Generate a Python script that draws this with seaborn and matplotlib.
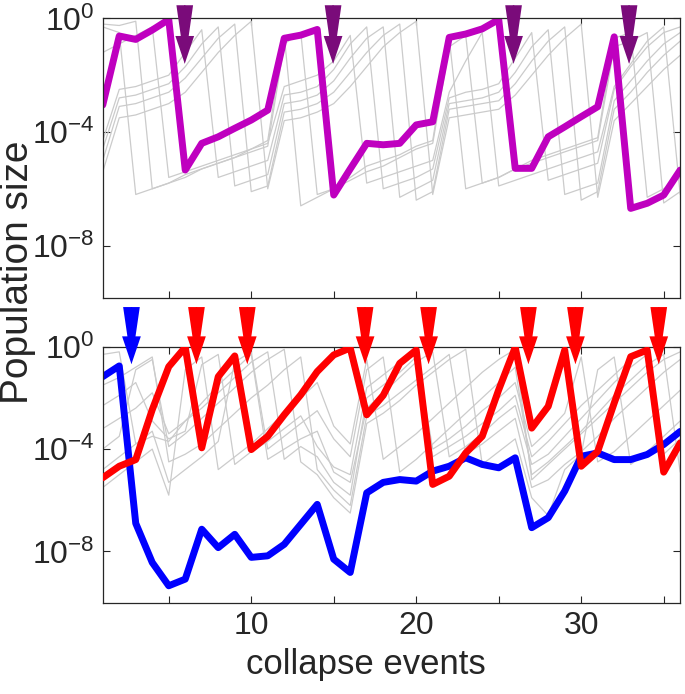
import numpy as np
import pandas as pd
import matplotlib
matplotlib.use("Agg")
import matplotlib.pyplot as plt
import seaborn as sns

# collapse event index
events = np.arange(1, 37)

# ---- top panel (log10 of population size) ----
top_focus = [-3.05, -0.62, -0.74, -0.41, -0.04, -5.34, -4.40, -4.17, -3.87, -3.58, -3.23, -0.70,
             -0.59, -0.39, -6.22, -5.30, -4.40, -4.45, -4.40, -3.75, -3.64, -0.67, -0.55, -0.37,
             -0.04, -5.28, -5.28, -4.17, -3.82, -3.46, -3.11, -0.65, -6.69, -6.51, -6.22, -5.34]
top_g1 = [-0.3, -0.5, -6.2, -6.0, -5.8, -5.5, -5.3, -5.1, -4.9, -4.6, -4.3, -0.6,
          -6.6, -6.3, -6.0, -5.6, -5.2, -5.0, -4.8, -4.5, -4.3, -0.7, -6.0, -5.8,
          -5.6, -5.3, -5.0, -4.8, -4.6, -4.4, -4.2, -0.7, -0.5, -6.3, -6.0, -5.6]
top_g2 = [-0.2, -0.25, -0.1, -6.0, -5.8, -5.6, -5.3, -5.1, -4.9, -4.7, -4.5, -0.9,
          -0.5, -6.2, -6.0, -5.7, -5.4, -5.2, -4.9, -4.6, -4.4, -1.0, -0.6, -5.8,
          -5.6, -5.3, -5.1, -4.9, -4.7, -4.5, -4.3, -1.0, -0.8, -0.5, -6.5, -6.1]
top_g3 = [-1.2, -0.9, -0.6, -0.3, -5.6, -5.4, -5.2, -5.0, -4.8, -4.6, -4.4, -2.4,
          -2.2, -2.0, -1.5, -0.6, -5.8, -5.6, -5.4, -5.2, -5.0, -2.6, -1.5, -0.5,
          -5.9, -5.7, -5.5, -5.3, -5.1, -4.9, -4.7, -2.4, -1.6, -0.8, -0.3, -6.2]
top_g4 = [-4.3, -2.5, -2.4, -2.2, -2.0, -1.2, -0.4, -5.6, -5.4, -5.2, -5.0, -2.7,
          -2.6, -2.4, -1.8, -0.9, -0.3, -6.0, -5.8, -5.6, -5.3, -2.8, -2.6, -2.5,
          -2.3, -1.4, -0.5, -5.7, -5.5, -5.3, -5.1, -2.5, -1.7, -1.0, -0.5, -0.3]
top_g5 = [-4.6, -2.8, -2.7, -2.5, -2.3, -1.7, -0.9, -0.3, -5.9, -5.7, -5.5, -3.0,
          -2.9, -2.7, -2.2, -1.4, -0.7, -0.3, -6.3, -6.0, -5.7, -3.0, -2.9, -2.8,
          -2.6, -1.9, -1.0, -0.4, -6.2, -6.0, -5.8, -2.9, -2.2, -1.5, -0.9, -0.5]
top_g6 = [-5.0, -3.1, -3.0, -2.8, -2.6, -2.1, -1.4, -0.7, -0.2, -6.1, -5.9, -3.3,
          -3.2, -3.0, -2.6, -1.9, -1.2, -0.6, -0.2, -6.4, -6.1, -3.2, -3.1, -3.0,
          -2.9, -2.3, -1.5, -0.8, -0.3, -6.4, -6.1, -3.2, -2.6, -1.9, -1.3, -0.8]
top_g7 = [-5.4, -3.5, -3.4, -3.2, -3.0, -2.6, -1.9, -1.2, -0.6, -0.1, -6.0, -3.6,
          -3.5, -3.3, -3.0, -2.4, -1.7, -1.0, -0.5, -0.1, -6.2, -3.5, -3.4, -3.3,
          -3.2, -2.7, -2.0, -1.3, -0.7, -0.2, -6.3, -3.6, -3.0, -2.4, -1.8, -1.3]

# ---- bottom panel ----
bot_red = [-5.12, -4.67, -4.41, -2.46, -0.78, -0.02, -3.95, -1.17, -0.36, -4.02, -3.50, -2.66,
           -1.88, -0.97, -0.32, -0.05, -2.66, -1.90, -0.65, -0.13, -5.38, -5.06, -4.15, -3.50,
           -1.68, -0.02, -3.18, -2.33, -0.13, -4.67, -4.09, -2.20, -0.39, -0.13, -4.90, -3.76]
bot_blue = [-1.17, -0.75, -6.90, -8.43, -9.34, -9.08, -7.13, -7.85, -7.33, -8.23, -8.17, -7.72,
            -6.94, -6.16, -8.30, -8.82, -5.71, -5.30, -5.19, -5.25, -4.86, -4.67, -4.34, -4.60,
            -4.73, -4.34, -7.07, -6.68, -5.64, -4.28, -4.15, -4.41, -4.41, -4.21, -3.82, -3.31]
bot_g1 = [-0.3, -0.2, -3.8, -3.5, -3.7, -2.9, -2.2, -1.5, -0.9, -0.3, -4.4, -4.0,
          -3.6, -3.3, -4.9, -5.3, -2.4, -1.8, -1.2, -0.6, -0.2, -4.3, -3.9, -3.4,
          -2.8, -2.3, -4.6, -4.2, -3.5, -2.8, -2.1, -1.4, -0.8, -0.3, -4.6, -4.0]
bot_g2 = [-1.5, -1.2, -0.8, -0.4, -4.5, -4.2, -3.8, -3.2, -2.6, -2.0, -1.5, -0.9,
          -0.4, -4.8, -5.6, -6.2, -2.7, -2.3, -1.8, -1.3, -0.8, -0.3, -4.2, -3.8,
          -3.3, -2.8, -5.5, -5.2, -4.6, -4.1, -3.5, -2.8, -2.2, -1.6, -1.0, -0.5]
bot_g3 = [-2.3, -1.9, -1.4, -2.9, -3.6, -3.3, -0.7, -0.3, -4.6, -4.1, -3.7, -3.2,
          -2.7, -3.9, -4.7, -5.0, -1.6, -1.1, -0.6, -0.2, -4.0, -3.6, -3.1, -2.5,
          -2.0, -1.4, -3.9, -3.3, -2.6, -0.4, -4.5, -4.1, -3.5, -2.9, -2.3, -1.7]
bot_g4 = [-3.2, -2.8, -2.4, -1.8, -3.4, -2.9, -2.4, -1.8, -1.2, -0.6, -0.2, -4.4,
          -3.9, -4.3, -5.3, -5.8, -2.0, -1.5, -1.0, -0.4, -4.3, -3.9, -3.5, -3.0,
          -2.5, -1.9, -4.3, -3.7, -3.0, -2.3, -1.7, -1.1, -0.5, -0.2, -4.2, -3.6]
bot_g5 = [-4.0, -3.5, -0.9, -0.5, -3.9, -3.4, -2.8, -2.2, -1.6, -1.0, -0.5, -0.1,
          -4.5, -5.0, -5.9, -6.5, -3.0, -2.6, -2.1, -1.5, -1.0, -0.5, -0.1, -4.6,
          -4.1, -3.6, -5.9, -6.6, -4.8, -4.2, -0.9, -0.4, -4.6, -4.1, -3.5, -2.9]
bot_g6 = [-4.8, -4.3, -3.8, -3.3, -5.3, -4.8, -4.3, -3.7, -0.6, -0.2, -4.0, -3.5,
          -3.0, -2.5, -3.6, -4.3, -0.9, -0.4, -4.9, -4.4, -3.8, -3.2, -2.6, -2.0,
          -1.4, -0.8, -5.0, -4.5, -3.9, -3.3, -2.6, -1.9, -1.3, -0.7, -0.3, -4.9]
bot_g7 = [-5.5, -5.0, -4.5, -4.0, -5.8, -0.9, -0.4, -4.8, -4.3, -3.8, -3.2, -2.6,
          -2.0, -1.4, -3.1, -3.8, -0.5, -4.4, -3.9, -3.4, -2.8, -2.2, -1.6, -1.0,
          -0.5, -0.1, -5.2, -4.6, -4.0, -3.4, -2.8, -2.2, -1.6, -1.0, -0.5, -0.2]

# arrow positions (collapse events marked)
top_arrows = [5.97, 14.96, 25.9, 32.9]
blue_arrows = [2.74]
red_arrows = [6.68, 9.76, 16.9, 20.75, 26.8, 29.65, 34.7]

xticks = [5, 10, 15, 20, 25, 30, 35]
xtick_labels = ["", "10", "", "20", "", "30", ""]
yticks = [1e0, 1e-4, 1e-8]
ytick_labels = [r"$10^{0}$", r"$10^{-4}$", r"$10^{-8}$"]

GRAY = "#cbcbcb"
MAGENTA = "#bf00bf"
PURPLE = "#7a0b7a"
RED = "#ff0000"
BLUE = "#0000ff"
INK = "#262626"


def long_df(series):
    rows = []
    for name, vals in series.items():
        for e, v in zip(events, vals):
            rows.append({"event": e, "size": 10.0 ** v, "series": name})
    return pd.DataFrame(rows)


sns.set_style("ticks")
plt.rcParams["font.family"] = ["Liberation Sans", "DejaVu Sans"]
plt.rcParams["mathtext.fontset"] = "custom"
plt.rcParams["mathtext.rm"] = "Liberation Sans"
plt.rcParams["mathtext.it"] = "Liberation Sans:italic"
plt.rcParams["mathtext.bf"] = "Liberation Sans:bold"
plt.rcParams["axes.unicode_minus"] = False

fig = plt.figure(figsize=(6.85, 6.94), dpi=100)
ax1 = fig.add_axes([0.150, 0.570, 0.843, 0.4035])
ax2 = fig.add_axes([0.150, 0.1316, 0.843, 0.3688])

top_gray = long_df({"g1": top_g1, "g2": top_g2, "g3": top_g3, "g4": top_g4,
                    "g5": top_g5, "g6": top_g6, "g7": top_g7})
bot_gray = long_df({"g1": bot_g1, "g2": bot_g2, "g3": bot_g3, "g4": bot_g4,
                    "g5": bot_g5, "g6": bot_g6, "g7": bot_g7})

sns.lineplot(data=top_gray, x="event", y="size", units="series", estimator=None,
             color=GRAY, lw=0.9, ax=ax1, zorder=1)
sns.lineplot(x=events, y=10.0 ** np.array(top_focus), color=MAGENTA, lw=5, ax=ax1, zorder=2)

sns.lineplot(data=bot_gray, x="event", y="size", units="series", estimator=None,
             color=GRAY, lw=0.9, ax=ax2, zorder=1)
sns.lineplot(x=events, y=10.0 ** np.array(bot_blue), color=BLUE, lw=5, ax=ax2, zorder=2)
sns.lineplot(x=events, y=10.0 ** np.array(bot_red), color=RED, lw=5, ax=ax2, zorder=3)

ylims = [(10 ** -9.86, 1.0), (1e-10, 1.0)]
for ax, yl in zip([ax1, ax2], ylims):
    ax.set_yscale("log")
    ax.set_xlim(1, 36)
    ax.set_ylim(*yl)
    ax.set_yticks(yticks)
    ax.set_yticklabels(ytick_labels)
    ax.yaxis.set_minor_locator(matplotlib.ticker.NullLocator())
    ax.set_xticks(xticks)
    ax.set_xlabel("")
    ax.set_ylabel("")
    ax.tick_params(direction="in", length=5, width=0.8, color=INK, labelcolor=INK,
                   labelsize=23, top=True, right=True, pad=6)
    for sp in ax.spines.values():
        sp.set_visible(True)
        sp.set_color(INK)
        sp.set_linewidth(0.9)

ax1.set_xticklabels([])
ax2.set_xticklabels(xtick_labels)


def draw_arrows(ax, xs, color, tail, tip):
    # tapered shaft (wedge) plus a triangular head
    for x in xs:
        kw = dict(xycoords=("data", "axes fraction"), textcoords=("data", "axes fraction"),
                  annotation_clip=False, zorder=5)
        ax.annotate("", xy=(x, tip), xytext=(x, tail),
                    arrowprops=dict(arrowstyle="wedge,tail_width=12,shrink_factor=0.5",
                                    mutation_scale=1, color=color, lw=0,
                                    shrinkA=0, shrinkB=0), **kw)
        ax.annotate("", xy=(x, tip), xytext=(x, tail),
                    arrowprops=dict(arrowstyle="simple,head_length=20,head_width=13.5,tail_width=1",
                                    mutation_scale=1, color=color, lw=0,
                                    shrinkA=0, shrinkB=0), **kw)


draw_arrows(ax1, top_arrows, PURPLE, 1.047, 0.838)
draw_arrows(ax2, blue_arrows, BLUE, 1.155, 0.932)
draw_arrows(ax2, red_arrows, RED, 1.155, 0.932)

fig.text(0.026, 0.608, "Population size", rotation=90, ha="center", va="center",
         fontsize=28, color=INK)
fig.text(0.534, 0.042, "collapse events", ha="center", va="center",
         fontsize=25, color=INK)

fig.savefig("out.png", dpi=100)
